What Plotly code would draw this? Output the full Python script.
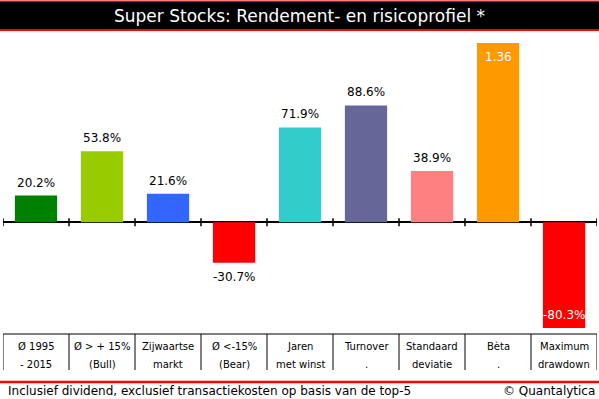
import plotly.graph_objects as go

# ---- data ----
line1 = ["Ø 1995", "Ø > + 15%", "Zijwaartse", "Ø <-15%", "Jaren", "Turnover", "Standaard", "Bèta", "Maximum"]
line2 = ["- 2015", "(Bull)", "markt", "(Bear)", "met winst", ".", "deviatie", ".", "drawdown"]
values = [20.2, 53.8, 21.6, -30.7, 71.9, 88.6, 38.9, 136, -80.3]
value_text = ["20.2%", "53.8%", "21.6%", "-30.7%", "71.9%", "88.6%", "38.9%", "1.36", "-80.3%"]
colors = ["#008000", "#99cc00", "#3366ff", "#ff0000", "#33cccc", "#666699", "#ff8080", "#ff9900", "#ff0000"]
title = "Super Stocks: Rendement- en risicoprofiel *"
footer_left = "Inclusief dividend, exclusief transactiekosten op basis van de top-5"
footer_right = "© Quantalytica"

FONT = "DejaVu Sans"
W, H = 599, 399
ML, MR, MT, MB = 3, 2, 43, 70
PH = H - MT - MB
PW = W - ML - MR

def py(p):  # pixel y -> paper y
    return (H - MB - p) / PH

def px(p):  # pixel x -> paper x
    return (p - ML) / PW

n = len(values)
x = list(range(n))
inside = [abs(v) > 100 or v < -60 for v in values]
fig = go.Figure(go.Bar(
    x=x, y=values, marker=dict(color=colors, line=dict(width=0)),
    width=0.64, cliponaxis=False, hoverinfo="skip",
))

shapes = []
# title bar
shapes.append(dict(type="rect", xref="paper", yref="paper", x0=px(0), x1=px(W), y0=py(31), y1=py(0.5),
                   fillcolor="#ff0000", line=dict(width=0), layer="above"))
shapes.append(dict(type="rect", xref="paper", yref="paper", x0=px(0), x1=px(W), y0=py(29), y1=py(2),
                   fillcolor="#000000", line=dict(width=0), layer="above"))
# axis ticks at category boundaries
for i in range(n + 1):
    b = i - 0.5
    shapes.append(dict(type="line", xref="x", yref="y", ysizemode="pixel", yanchor=0,
                       x0=b, x1=b, y0=-4, y1=4, line=dict(color="black", width=1.5)))
    # table vertical lines
    shapes.append(dict(type="line", xref="x", yref="paper", x0=b, x1=b, y0=py(370), y1=py(334),
                       line=dict(color="black", width=1)))
# table top line
shapes.append(dict(type="line", xref="x", yref="paper", x0=-0.5, x1=n - 0.5, y0=py(334), y1=py(334),
                   line=dict(color="black", width=1)))
# footer red line
shapes.append(dict(type="line", xref="paper", yref="paper", x0=px(0), x1=px(W), y0=py(382), y1=py(382),
                   line=dict(color="#ff0000", width=2.5)))

annotations = [dict(text=title, xref="paper", yref="paper", x=px(W / 2), y=py(16), showarrow=False,
                    xanchor="center", yanchor="middle", font=dict(family=FONT, size=17, color="white"))]
# value labels
for i in range(n):
    v = values[i]
    if inside[i]:
        shift = -14 if v > 0 else 13
        color = "white"
    else:
        shift = 13 if v > 0 else -14
        color = "black"
    annotations.append(dict(text=value_text[i], x=i, y=v, xref="x", yref="y", yshift=shift, showarrow=False,
                            xanchor="center", yanchor="middle",
                            font=dict(family=FONT, size=12, color=color)))
for i in range(n):
    annotations.append(dict(text=line1[i], x=i, xref="x", yref="paper", y=py(346), showarrow=False,
                            xanchor="center", yanchor="middle", font=dict(family=FONT, size=10, color="black")))
    annotations.append(dict(text=line2[i], x=i, xref="x", yref="paper", y=py(364), showarrow=False,
                            xanchor="center", yanchor="middle", font=dict(family=FONT, size=10, color="black")))
annotations.append(dict(text=footer_left, xref="paper", yref="paper", x=px(6), y=py(391), showarrow=False,
                        xanchor="left", yanchor="middle", font=dict(family=FONT, size=12, color="black")))
annotations.append(dict(text=footer_right, xref="paper", yref="paper", x=px(597), y=py(391), showarrow=False,
                        xanchor="right", yanchor="middle", font=dict(family=FONT, size=12, color="black")))

fig.update_layout(
    width=W, height=H, margin=dict(l=ML, r=MR, t=MT, b=MB, pad=0),
    paper_bgcolor="white", plot_bgcolor="white", showlegend=False,
    xaxis=dict(range=[-0.5, n - 0.5], showticklabels=False, showgrid=False, zeroline=False,
               showline=False, ticks="", fixedrange=True),
    yaxis=dict(range=[-81, 136], showticklabels=False, showgrid=False, zeroline=True,
               zerolinecolor="black", zerolinewidth=1.5, showline=False, ticks="", fixedrange=True),
    shapes=shapes, annotations=annotations,
)
fig.write_html("out.html", config={"displayModeBar": False},
               post_script="document.body.style.margin='0';document.body.style.overflow='hidden';")
